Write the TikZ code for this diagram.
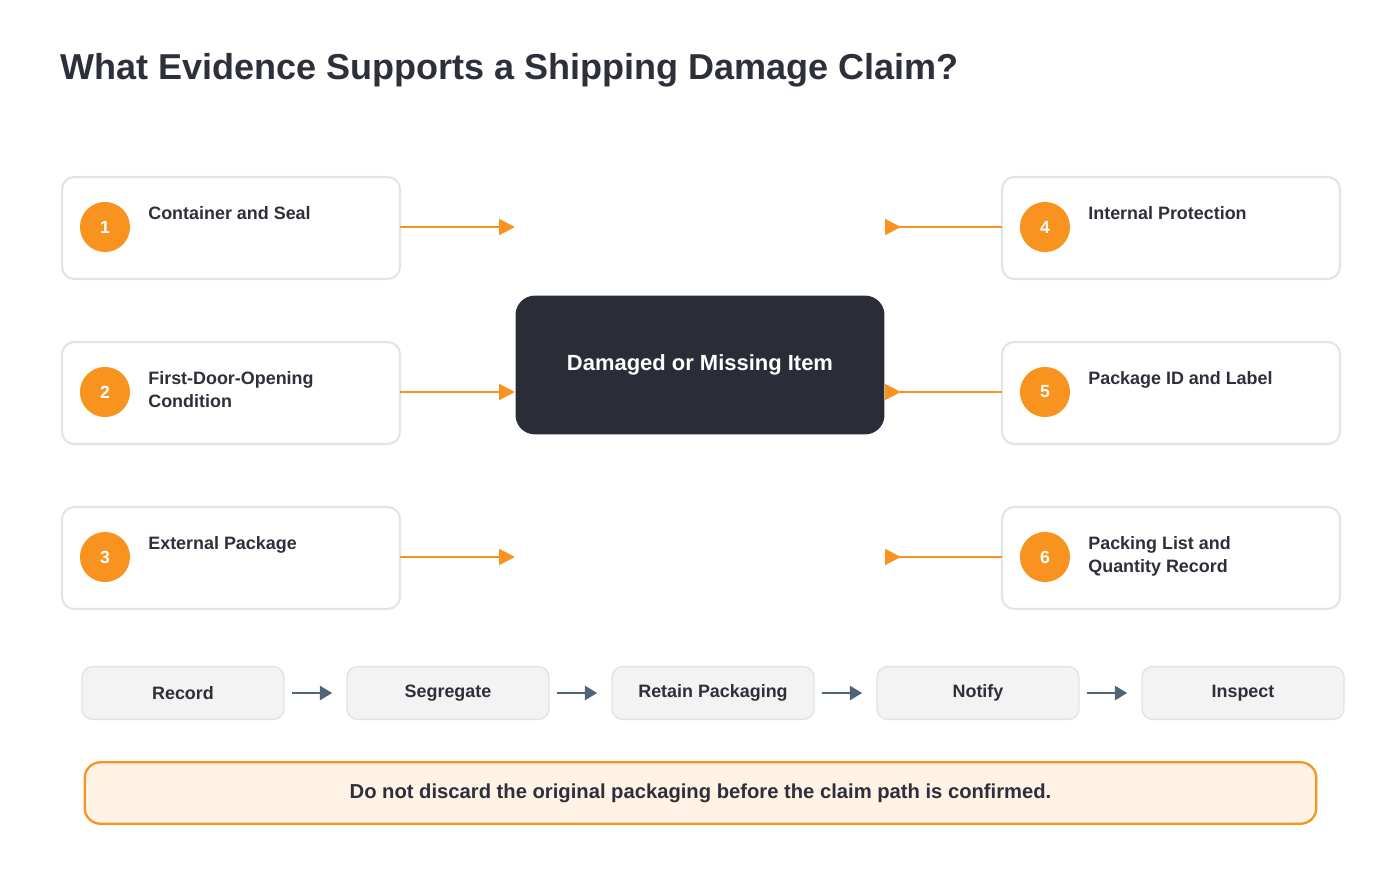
\documentclass[tikz,border=0pt]{standalone}
\usepackage{fontspec}
\setmainfont{Liberation Sans}
\usetikzlibrary{arrows.meta}
\definecolor{orangeacc}{HTML}{F7931E}
\definecolor{darkbox}{HTML}{2A2D38}
\definecolor{textdark}{HTML}{2D2F3A}
\definecolor{cardline}{HTML}{E2E4EA}
\definecolor{stepfill}{HTML}{F3F3F3}
\definecolor{stepline}{HTML}{E3E3E3}
\definecolor{steparrow}{HTML}{4F6478}
\definecolor{notefill}{HTML}{FFF3E6}
\tikzset{
  card/.style={draw=cardline, line width=1.2pt, rounded corners=7pt, fill=white},
  num/.style={circle, fill=orangeacc, minimum size=28.5pt, inner sep=0pt, text=white, font=\fontsize{10}{12}\selectfont\bfseries},
  lbl/.style={anchor=north west, align=left, text=textdark, font=\fontsize{10.2}{13}\selectfont\bfseries, inner sep=0pt},
  feed/.style={orangeacc, line width=1.3pt, -{Triangle[length=9pt,width=9pt]}},
  back/.style={orangeacc, line width=1.3pt, -{Triangle[length=9pt,width=9pt,reversed]}},
  stage/.style={draw=stepline, line width=0.8pt, fill=stepfill, rounded corners=6pt, minimum width=115pt, minimum height=30pt, text=textdark, font=\fontsize{10.2}{12}\selectfont\bfseries},
  flow/.style={steparrow, line width=1.3pt, -{Triangle[length=7pt,width=8pt]}}
}
\begin{document}
\begin{tikzpicture}[x=0.02cm, y=-0.02cm]
\useasboundingbox (0,0) rectangle (1400,875);
\node[anchor=west, text=textdark, font=\fontsize{20.5}{24}\selectfont\bfseries, inner sep=0pt] (title) at (60,70) {What Evidence Supports a Shipping Damage Claim?};

% centre
\node[fill=darkbox, rounded corners=11pt, minimum width=210pt, minimum height=79pt, text=white, font=\fontsize{12.5}{15}\selectfont\bfseries] (item) at (700,365) {Damaged or Missing Item};

% evidence cards
\foreach \i/\y/\t in {1/227/{Container and Seal}, 2/392/{First-Door-Opening\\Condition}, 3/557/{External Package}} {
  \draw[card] (62,\y-50) rectangle (400,\y+52);
  \node[num] (n\i) at (105,\y) {\i};
  \node[lbl] (l\i) at (148,\y-21) {\t};
  \coordinate (s\i) at (400,\y);
  \coordinate (e\i) at (515,\y);
  \draw[feed] (s\i) -- (e\i);
}
\foreach \i/\y/\t in {4/227/{Internal Protection}, 5/392/{Package ID and Label}, 6/557/{Packing List and\\Quantity Record}} {
  \draw[card] (1002,\y-50) rectangle (1340,\y+52);
  \node[num] (n\i) at (1045,\y) {\i};
  \node[lbl] (l\i) at (1088,\y-21) {\t};
  \coordinate (s\i) at (1002,\y);
  \coordinate (e\i) at (885,\y);
  \draw[back] (s\i) -- (e\i);
}

% steps
\node[stage] (r1) at (183,693) {Record};
\node[stage] (r2) at (448,693) {Segregate};
\node[stage] (r3) at (713,693) {Retain Packaging};
\node[stage] (r4) at (978,693) {Notify};
\node[stage] (r5) at (1243,693) {Inspect};
\foreach \a/\b in {r1/r2, r2/r3, r3/r4, r4/r5}
  \draw[flow] ([xshift=4pt]\a.east) -- ([xshift=-8pt]\b.west);

% note
\node[draw=orangeacc, line width=1.3pt, fill=notefill, rounded corners=9pt, minimum width=701pt, minimum height=35pt, text=textdark, font=\fontsize{11.5}{14}\selectfont\bfseries] (note) at (700.5,793) {Do not discard the original packaging before the claim path is confirmed.};
\end{tikzpicture}
\end{document}
